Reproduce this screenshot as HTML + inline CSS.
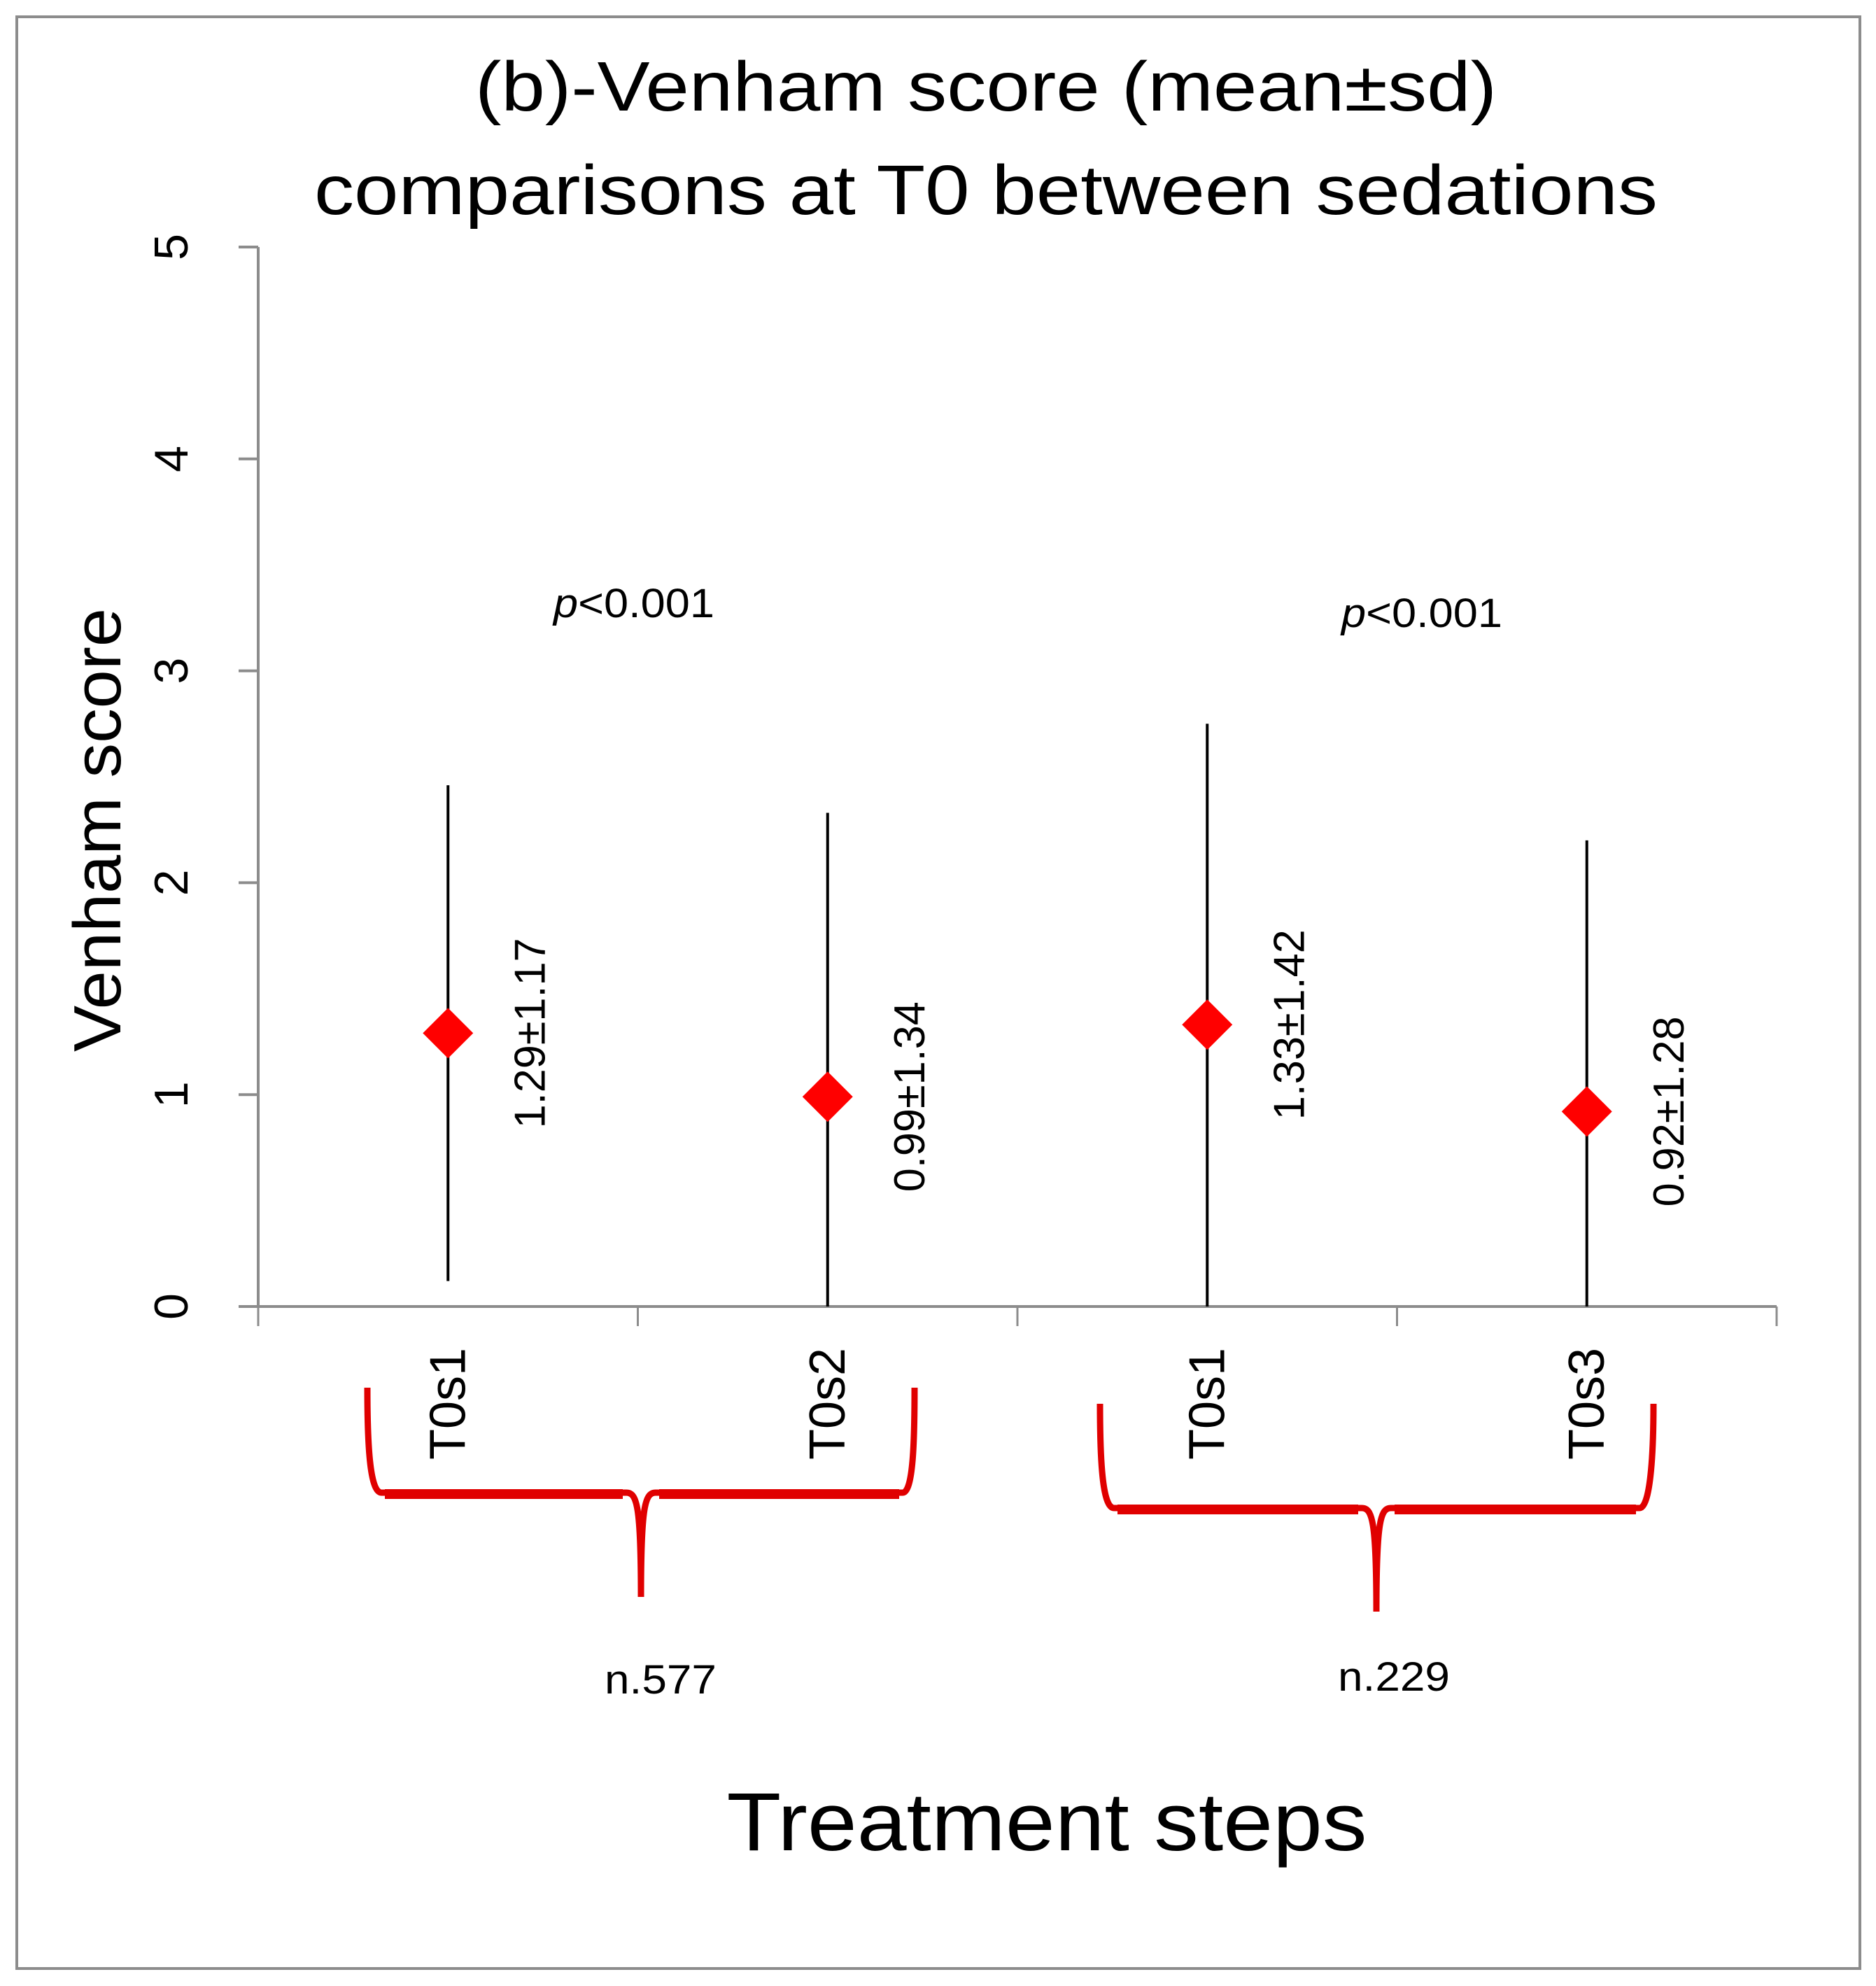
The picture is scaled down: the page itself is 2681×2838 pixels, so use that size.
<!DOCTYPE html>
<html><head><meta charset="utf-8"><style>
html,body{margin:0;padding:0;background:#fff}
svg{display:block}
text{font-family:"Liberation Sans",sans-serif;fill:#000}
</style></head><body>
<svg id="chart" width="2681" height="2838" viewBox="0 0 2681 2838" xmlns="http://www.w3.org/2000/svg">
<rect x="24" y="24" width="2634" height="2789" fill="#fff" stroke="#8c8c8c" stroke-width="4"/>
<text x="1409" y="158" font-size="100" text-anchor="middle" textLength="1460" lengthAdjust="spacingAndGlyphs">(b)-Venham score (mean±sd)</text>
<text x="1409" y="306" font-size="100" text-anchor="middle" textLength="1920" lengthAdjust="spacingAndGlyphs">comparisons at T0 between sedations</text>
<g id="axes"></g>
<g id="marks"></g>
<path d="M525,1983 C525,2060 528,2133 545,2133 L895,2133 C910,2133 916,2150 916,2282 C916,2150 922,2133 937,2133 L1290,2133 C1305,2133 1307,2060 1307,1983" fill="none" stroke="#e00000" stroke-width="9"/>
<path d="M550,2135 L890,2135 M942,2135 L1285,2135" fill="none" stroke="#e00000" stroke-width="14"/>
<path d="M1572,2006 C1572,2083 1575,2155 1592,2155 L1946,2155 C1961,2155 1967,2172 1967,2303 C1967,2172 1973,2155 1988,2155 L2343,2155 C2358,2155 2363,2083 2363,2006" fill="none" stroke="#e00000" stroke-width="9"/>
<path d="M1597,2157 L1941,2157 M1993,2157 L2338,2157" fill="none" stroke="#e00000" stroke-width="14"/>
<text x="944" y="2420" font-size="58" text-anchor="middle" textLength="160" lengthAdjust="spacingAndGlyphs">n.577</text>
<text x="1992" y="2416" font-size="58" text-anchor="middle" textLength="160" lengthAdjust="spacingAndGlyphs">n.229</text>
<text x="906" y="882" font-size="58" text-anchor="middle" textLength="230" lengthAdjust="spacingAndGlyphs"><tspan font-style="italic">p</tspan>&lt;0.001</text>
<text x="2032" y="896" font-size="58" text-anchor="middle" textLength="230" lengthAdjust="spacingAndGlyphs"><tspan font-style="italic">p</tspan>&lt;0.001</text>
<text x="1496" y="2644" font-size="118" text-anchor="middle" textLength="915" lengthAdjust="spacingAndGlyphs">Treatment steps</text>
<text transform="translate(172,1186) rotate(-90)" x="0" y="0" font-size="96" text-anchor="middle" textLength="634" lengthAdjust="spacingAndGlyphs">Venham score</text>
</svg>
<script>
const categories = ["T0s1","T0s2","T0s1","T0s3"];
const means = [1.29, 0.99, 1.33, 0.92];
const sds = [1.17, 1.34, 1.42, 1.28];
const labels = ["1.29±1.17","0.99±1.34","1.33±1.42","0.92±1.28"];
const yTicks = [0,1,2,3,4,5];

const NS="http://www.w3.org/2000/svg";
const X0=369, X1=2539, Y0=1867, Y5=353;
function yScale(v){return Y0-(v/5)*(Y0-Y5);}
const step=(X1-X0)/categories.length;
function xScale(i){return X0+step*(i+0.5);}
function mk(tag,attrs,parent){const e=document.createElementNS(NS,tag);for(const k in attrs)e.setAttribute(k,attrs[k]);parent.appendChild(e);return e;}
const axes=document.getElementById('axes'), marks=document.getElementById('marks');

let yl=mk('line',{x1:X0,y1:Y5,x2:X0,y2:Y0,stroke:'#8c8c8c','stroke-width':4},axes);


let xl=mk('line',{x1:X0-28,y1:Y0,x2:X1,y2:Y0,stroke:'#8c8c8c','stroke-width':4},axes);


yTicks.forEach(t=>{
  const y=yScale(t);
  const tk=mk('line',{x1:X0-28,y1:y,x2:X0,y2:y,stroke:'#8c8c8c','stroke-width':4},axes);
  
  
  const tx=mk('text',{transform:`translate(268,${y}) rotate(-90)`,'font-size':68,'text-anchor':'middle'},axes);
  tx.textContent=String(t);
  
  
});
for(let i=0;i<=categories.length;i++){
  const x=X0+step*i;
  const tk=mk('line',{x1:x,y1:Y0,x2:x,y2:Y0+28,stroke:'#8c8c8c','stroke-width':3},axes);
  
  
}
categories.forEach((c,i)=>{
  const x=xScale(i);
  const tx=mk('text',{transform:`translate(${x+24},2006) rotate(-90)`,'font-size':72,'text-anchor':'middle'},axes);
  tx.textContent=c;
  
  
  const top=yScale(Math.min(5,means[i]+sds[i])), bot=yScale(Math.max(0,means[i]-sds[i]));
  const eb=mk('line',{x1:x,y1:top,x2:x,y2:bot,stroke:'#000','stroke-width':4},marks);
  
  
  const y=yScale(means[i]), r=36;
  const d=mk('polygon',{points:`${x},${y-r} ${x+r},${y} ${x},${y+r} ${x-r},${y}`,fill:'#ff0000'},marks);
  
  
  const lb=mk('text',{transform:`translate(${x+138},${y}) rotate(-90)`,'font-size':62,'text-anchor':'middle',textLength:272,lengthAdjust:'spacingAndGlyphs'},marks);
  lb.textContent=labels[i];
  
  
});
</script>
</body></html>
